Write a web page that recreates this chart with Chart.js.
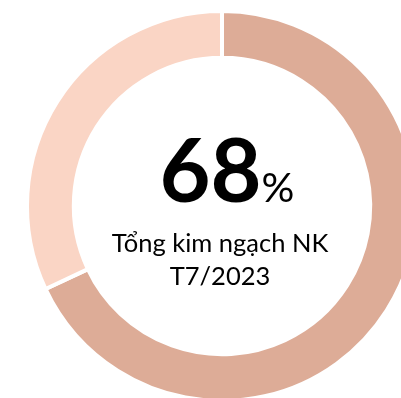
<!DOCTYPE html>
<html>
<head>
<meta charset="utf-8">
<script src="https://cdn.jsdelivr.net/npm/chart.js@4"></script>
<style>
  html, body { margin: 0; padding: 0; background: #fff; overflow: hidden; width: 401px; height: 398px; }
  #wrap { position: absolute; left: 0; top: 0; width: 444px; height: 412px; }
  .txt { position: absolute; width: 444px; text-align: center; font-family: Lato, "Open Sans", sans-serif; color: #000; white-space: nowrap; }
  #big { left: 5px; top: 116px; line-height: 1.2; font-size: 88px; font-weight: bold; }
  #big span { font-size: 41px; font-weight: normal; }
  #sub { left: -2px; top: 226px; line-height: 33px; font-size: 25.5px; }
</style>
</head>
<body>
<div id="wrap"><canvas id="myChart"></canvas></div>
<div id="big" class="txt">68<span>%</span></div>
<div id="sub" class="txt">Tổng kim ngạch NK<br>T7/2023</div>

<script>
// share of import value, July 2023
var labels = ["Tổng kim ngạch NK", "Còn lại"];
var shares = [68, 32];
var colors = ["#DDAC97", "#FAD5C5"];

var ctx = document.getElementById("myChart").getContext('2d');
var myChart = new Chart(ctx, {
    type: 'doughnut',
    data: {
        labels: labels,
        datasets: [{
            data: shares,
            backgroundColor: colors,
            borderColor: "#ffffff",
            borderWidth: 4
        }]
    },
    options: {
        responsive: true,
        maintainAspectRatio: false,
        animation: false,
        cutout: '76%',
        layout: { padding: { top: 9, bottom: 9 } },
        plugins: {
            legend: { display: false },
            tooltip: { enabled: false }
        }
    }
});
</script>
</body>
</html>
